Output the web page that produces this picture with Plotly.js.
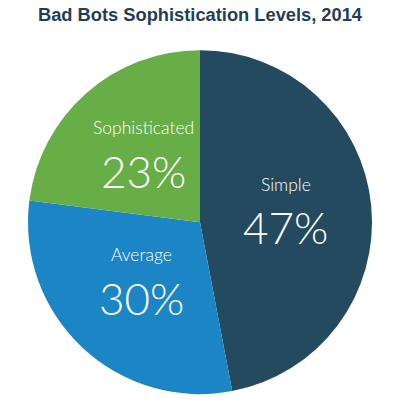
<!DOCTYPE html>
<html>
<head>
<meta charset="utf-8">
<script src="https://cdn.plot.ly/plotly-3.0.1.min.js"></script>
<style>
  html, body { margin: 0; padding: 0; background: #fff; }
  #myDiv { width: 400px; height: 401px; }
</style>
</head>
<body>
<div id="myDiv"></div>
<script>
graphDiv = 'myDiv'

// bot sophistication shares, clockwise from 12 o'clock
var levels = ['Simple', 'Average', 'Sophisticated']
var shares = [47, 30, 23]
var sliceColors = ['#244a5f', '#1b85c6', '#68ae46']

var domainX = [0.07, 0.93]
var domainY = [0.017, 0.875]

var pie = {
  type: 'pie',
  labels: levels,
  values: shares,
  sort: false,
  direction: 'clockwise',
  rotation: 0,
  marker: { colors: sliceColors, line: { width: 0 } },
  textinfo: 'none',
  hoverinfo: 'none',
  showlegend: false,
  domain: { x: domainX, y: domainY }
}

/* labels sit at each slice's mid angle, about half way out from the centre.
 * positions are worked out from the shares, not typed in
 */
var W = 400, H = 401
var cx = (domainX[0] + domainX[1]) / 2
var cy = (domainY[0] + domainY[1]) / 2
var R = Math.min((domainX[1] - domainX[0]) * W, (domainY[1] - domainY[0]) * H) / 2
var total = shares.reduce(function (a, b) { return a + b }, 0)
var font = 'Lato, "Open Sans", sans-serif'

var annotations = []
var acc = 0
for (var i = 0; i < shares.length; i++) {
  var mid = (acc + shares[i] / 2) / total * 2 * Math.PI
  acc += shares[i]
  var r = 0.5 * R
  var px = Math.sin(mid) * r
  var py = Math.cos(mid) * r + 9
  var common = {
    xref: 'paper', yref: 'paper', x: cx + px / W, y: cy + py / H,
    xanchor: 'center', yanchor: 'middle', showarrow: false
  }
  annotations.push(Object.assign({}, common, {
    text: levels[i], yshift: 21,
    font: { family: font, size: 17.5, color: '#ffffff', weight: 300 }
  }))
  annotations.push(Object.assign({}, common, {
    text: shares[i] + '%', yshift: -22,
    font: { family: font, size: 44, color: '#ffffff', weight: 300 }
  }))
}

var layout = {
  width: W,
  height: H,
  margin: { l: 0, r: 0, t: 0, b: 0 },
  paper_bgcolor: '#ffffff',
  title: {
    text: '<b>Bad Bots Sophistication Levels, 2014</b>',
    font: { family: '"Liberation Sans", Arial, sans-serif', size: 18.3, color: '#1f3f56' },
    x: 0.5,
    xanchor: 'center',
    y: 0.964,
    yanchor: 'middle'
  },
  annotations: annotations
}

Plotly.newPlot(graphDiv, [pie], layout, { displayModeBar: false, staticPlot: true });
</script>
</body>
</html>
